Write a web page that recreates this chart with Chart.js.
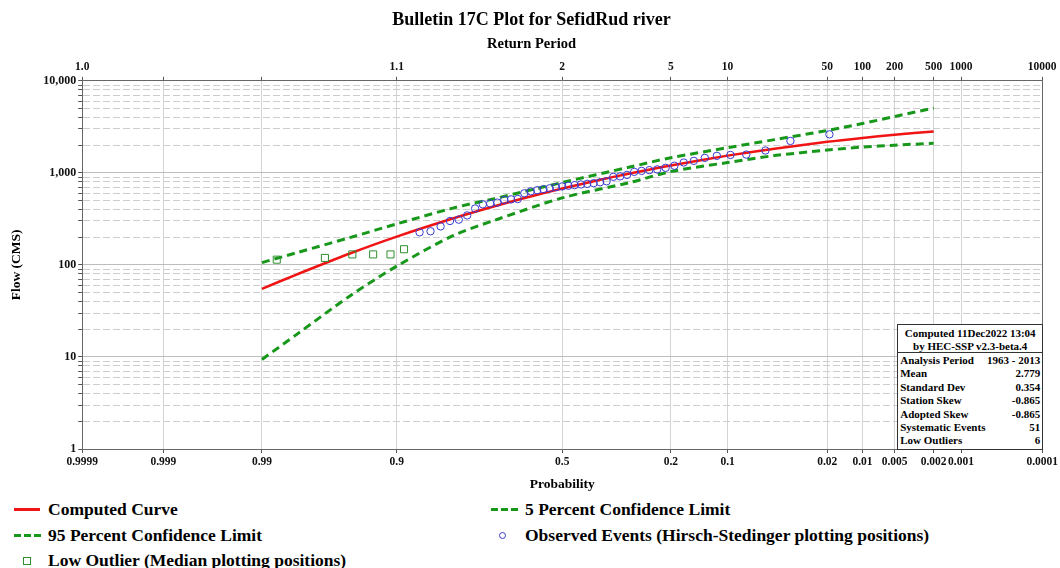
<!DOCTYPE html>
<html>
<head>
<meta charset="utf-8">
<title>Bulletin 17C Plot for SefidRud river</title>
<script src="https://cdn.jsdelivr.net/npm/chart.js@4.4.1/dist/chart.umd.min.js"></script>
<style>
  body { margin: 0; background: #fff; font-family: 'Liberation Serif', 'Times New Roman', serif; font-weight: bold; }
  #wrap { position: relative; width: 1060px; height: 568px; overflow: hidden; }
  #grafico { position: absolute; left: 0; top: 0; }
  #stats { position: absolute; width: 146px; height: 126px; box-sizing: border-box; border: 1px solid #333; background: #fff; font-size: 11px; color: #000; }
  #stats .head { text-align: center; line-height: 12.5px; padding-top: 2px; border-bottom: 1px solid #333; height: 28px; box-sizing: border-box; }
  #stats .row { display: flex; justify-content: space-between; line-height: 13.4px; padding: 0 2px; }
  #legenda { position: absolute; left: 0; top: 497px; width: 1060px; }
  .item { position: absolute; height: 24px; line-height: 24px; font-size: 17.5px; color: #000; white-space: nowrap; }
  .marca { position: absolute; top: 11px; }
</style>
</head>
<body>
<div id="wrap">
  <canvas id="grafico" width="1060" height="497"></canvas>
  <div id="stats"></div>
  <div id="legenda"></div>
</div>
<script>
// Eixo de probabilidade (excedencia) e rotulos
const probTicks = [0.9999, 0.999, 0.99, 0.9, 0.5, 0.2, 0.1, 0.02, 0.01, 0.005, 0.002, 0.001, 0.0001];
const probTickLabels = ['0.9999', '0.999', '0.99', '0.9', '0.5', '0.2', '0.1', '0.02', '0.01', '0.005', '0.002', '0.001', '0.0001'];
const returnPeriodLabels = ['1.0', '', '', '1.1', '2', '5', '10', '50', '100', '200', '500', '1000', '10000'];

// Eixo de vazao
const flowDecades = [1, 10, 100, 1000, 10000];
const flowDecadeLabels = ['1', '10', '100', '1,000', '10,000'];

// Curva calculada
const curveProb = [0.99, 0.98, 0.95, 0.9, 0.8, 0.7, 0.6, 0.5, 0.4, 0.3, 0.2, 0.1, 0.05, 0.02, 0.01, 0.005, 0.002];
const curveFlow = [55, 79, 133, 203, 321, 433, 549, 675, 816, 985, 1204, 1538, 1832, 2171, 2393, 2593, 2820];

// Limites de confianca
const limitProb = [0.99, 0.98, 0.95, 0.9, 0.8, 0.7, 0.5, 0.3, 0.2, 0.1, 0.05, 0.02, 0.01, 0.005, 0.002];
const upperFlow = [106, 136, 198, 279, 416, 525, 785, 1156, 1459, 1876, 2296, 2885, 3436, 4093, 5060];
const lowerFlow = [9.4, 17.7, 46, 97, 209, 305, 534, 785, 1033, 1294, 1540, 1766, 1905, 2000, 2093];

// Eventos observados (Hirsch-Stedinger)
const observedProb = [0.0192, 0.0385, 0.0577, 0.0769, 0.0962, 0.1154, 0.1346, 0.1538, 0.1731, 0.1923,
  0.2115, 0.2308, 0.25, 0.2692, 0.2885, 0.3077, 0.3269, 0.3462, 0.3654, 0.3846,
  0.4038, 0.4231, 0.4423, 0.4615, 0.4808, 0.5, 0.5192, 0.5385, 0.5577, 0.5769,
  0.5962, 0.6154, 0.6346, 0.6538, 0.6731, 0.6923, 0.7115, 0.7308, 0.75, 0.7692,
  0.7885, 0.8077, 0.8269, 0.8462, 0.8654];
const observedFlow = [2620, 2220, 1750, 1580, 1565, 1530, 1455, 1350, 1295, 1195,
  1135, 1090, 1070, 1050, 1025, 950, 915, 905, 810, 790,
  772, 760, 748, 736, 724, 712, 700, 680, 665, 648,
  630, 600, 520, 515, 508, 475, 465, 455, 410, 345,
  310, 300, 262, 232, 226];

// Outliers baixos (mediana)
const lowProb = [0.9865, 0.967, 0.948, 0.9285, 0.9083, 0.8898];
const lowFlow = [114, 119, 130, 130, 130, 148];

// Quadro de estatisticas
const statHead = ['Computed 11Dec2022 13:04', 'by HEC-SSP v2.3-beta.4'];
const statNames = ['Analysis Period', 'Mean', 'Standard Dev', 'Station Skew', 'Adopted Skew', 'Systematic Events', 'Low Outliers'];
const statValues = ['1963 - 2013', '2.779', '0.354', '-0.865', '-0.865', '51', '6'];

const corVermelha = '#f01414';
const corVerde = '#17981a';
const corAzul = '#3a3ad0';
const corQuadrado = '#2f8f2f';

// inversa da normal (Acklam)
function normInv(p) {
    const a = [-3.969683028665376e+01, 2.209460984245205e+02, -2.759285104469687e+02, 1.383577518672690e+02, -3.066479806614716e+01, 2.506628277459239e+00];
    const b = [-5.447609879822406e+01, 1.615858368580409e+02, -1.556989798598866e+02, 6.680131188771972e+01, -1.328068155288572e+01];
    const c = [-7.784894002430293e-03, -3.223964580411365e-01, -2.400758277161838e+00, -2.549732539343734e+00, 4.374664141464968e+00, 2.938163982698783e+00];
    const d = [7.784695709041462e-03, 3.224671290700398e-01, 2.445134137142996e+00, 3.754408661907416e+00];
    const pl = 0.02425;
    let q, r;
    if (p < pl) {
        q = Math.sqrt(-2 * Math.log(p));
        return (((((c[0] * q + c[1]) * q + c[2]) * q + c[3]) * q + c[4]) * q + c[5]) / ((((d[0] * q + d[1]) * q + d[2]) * q + d[3]) * q + 1);
    }
    if (p > 1 - pl) {
        q = Math.sqrt(-2 * Math.log(1 - p));
        return -(((((c[0] * q + c[1]) * q + c[2]) * q + c[3]) * q + c[4]) * q + c[5]) / ((((d[0] * q + d[1]) * q + d[2]) * q + d[3]) * q + 1);
    }
    q = p - 0.5;
    r = q * q;
    return (((((a[0] * r + a[1]) * r + a[2]) * r + a[3]) * r + a[4]) * r + a[5]) * q / (((((b[0] * r + b[1]) * r + b[2]) * r + b[3]) * r + b[4]) * r + 1);
}

const zOf = p => normInv(1 - p);
const pLeft = probTicks[0];
const pRight = probTicks[probTicks.length - 1];

// escala de probabilidade normal
class ProbabilityScale extends Chart.Scale {
    static id = 'probability';
    static defaults = {};

    determineDataLimits() {
        this.min = pRight;
        this.max = pLeft;
    }
    buildTicks() {
        return probTicks.map(v => ({ value: v }));
    }
    getLabelForValue(v) {
        return String(v);
    }
    getPixelForValue(v) {
        const z0 = zOf(pLeft), z1 = zOf(pRight);
        return this.getPixelForDecimal((zOf(v) - z0) / (z1 - z0));
    }
    getValueForPixel(px) {
        const z0 = zOf(pLeft), z1 = zOf(pRight);
        const z = z0 + this.getDecimalForPixel(px) * (z1 - z0);
        let lo = 1e-6, hi = 1 - 1e-6;
        for (let i = 0; i < 50; i++) {
            const mid = (lo + hi) / 2;
            if (zOf(mid) > z) lo = mid; else hi = mid;
        }
        return (lo + hi) / 2;
    }
}
Chart.register(ProbabilityScale);

const isDecade = v => flowDecades.includes(v);
const flowGridValues = [];
flowDecades.forEach(dec => {
    for (let k = 1; k <= 9; k++) {
        if (dec * k <= flowDecades[flowDecades.length - 1]) flowGridValues.push(dec * k);
    }
});

const pares = (ps, qs) => ps.map((p, i) => ({ x: p, y: qs[i] }));

Chart.defaults.font.family = "'Liberation Serif', 'Times New Roman', serif";
Chart.defaults.font.weight = 'bold';
Chart.defaults.color = '#000';

const fonteTick = { size: 11.5, weight: 'bold' };
const fonteTitulo = { size: 13.5, weight: 'bold' };

const config = {
    type: 'line',
    data: {
        datasets: [
            {
                label: 'Observed Events (Hirsch-Stedinger plotting positions)',
                type: 'scatter',
                data: pares(observedProb, observedFlow),
                pointStyle: 'circle',
                pointRadius: 3.7,
                borderColor: corAzul,
                backgroundColor: 'transparent',
                borderWidth: 1,
                order: 0
            },
            {
                label: 'Low Outlier (Median plotting positions)',
                type: 'scatter',
                data: pares(lowProb, lowFlow),
                pointStyle: 'rect',
                pointRadius: 5,
                borderColor: corQuadrado,
                backgroundColor: 'transparent',
                borderWidth: 1,
                order: 0
            },
            {
                label: 'Computed Curve',
                data: pares(curveProb, curveFlow),
                borderColor: corVermelha,
                borderWidth: 2.5,
                pointRadius: 0,
                tension: 0.3,
                order: 1
            },
            {
                label: '5 Percent Confidence Limit',
                data: pares(limitProb, upperFlow),
                borderColor: corVerde,
                borderWidth: 3,
                borderDash: [8, 5],
                pointRadius: 0,
                tension: 0.3,
                order: 2
            },
            {
                label: '95 Percent Confidence Limit',
                data: pares(limitProb, lowerFlow),
                borderColor: corVerde,
                borderWidth: 3,
                borderDash: [8, 5],
                pointRadius: 0,
                tension: 0.3,
                order: 2
            }
        ]
    },
    options: {
        responsive: false,
        devicePixelRatio: 1,
        animation: false,
        events: [],
        layout: { padding: { left: 3, right: 0, top: 0, bottom: 2 } },
        plugins: {
            legend: { display: false },
            tooltip: { enabled: false },
            title: {
                display: true,
                text: 'Bulletin 17C Plot for SefidRud river',
                font: { size: 18, weight: 'bold' },
                color: '#000',
                padding: { top: 10, bottom: 1 }
            },
            subtitle: {
                display: true,
                text: 'Return Period',
                font: { size: 14.5, weight: 'bold' },
                color: '#000',
                padding: { top: 3, bottom: 4 }
            }
        },
        scales: {
            x: {
                type: 'probability',
                axis: 'x',
                position: 'bottom',
                ticks: { autoSkip: false, maxRotation: 0, padding: 2, font: fonteTick, color: '#111', callback: (v, i) => probTickLabels[i] },
                grid: { color: '#d4d4d4', tickColor: '#555', tickLength: 4 },
                border: { color: '#666' },
                title: { display: true, text: 'Probability', font: fonteTitulo, color: '#000', padding: { top: 6, bottom: 2 } }
            },
            xTop: {
                type: 'probability',
                axis: 'x',
                position: 'top',
                ticks: { autoSkip: false, maxRotation: 0, padding: 3, font: fonteTick, color: '#111', callback: (v, i) => returnPeriodLabels[i] },
                grid: { drawOnChartArea: false, tickColor: '#555', tickLength: 4 },
                border: { color: '#666' }
            },
            y: {
                type: 'logarithmic',
                position: 'left',
                min: flowDecades[0],
                max: flowDecades[flowDecades.length - 1],
                afterBuildTicks: s => { s.ticks = flowGridValues.map(v => ({ value: v })); },
                ticks: {
                    autoSkip: false, padding: 2, font: { size: 12, weight: 'bold' }, color: '#111',
                    callback: v => { const i = flowDecades.indexOf(v); return i >= 0 ? flowDecadeLabels[i] : ''; }
                },
                grid: {
                    color: ctx => ctx.tick && isDecade(ctx.tick.value) ? '#bdbdbd' : '#cdcdcd',
                    tickColor: '#555',
                    tickLength: 4
                },
                border: {
                    color: '#666',
                    dash: ctx => (ctx.tick && !isDecade(ctx.tick.value)) ? [7, 3] : []
                },
                title: { display: true, text: 'Flow (CMS)', font: fonteTitulo, color: '#000', padding: { top: 5, bottom: 17 } }
            },
            yR: {
                type: 'linear',
                position: 'right',
                min: 0,
                max: 1,
                ticks: { display: false },
                grid: { display: false, drawTicks: false },
                border: { color: '#666' }
            }
        }
    }
};

document.addEventListener('DOMContentLoaded', function() {
    const ctx = document.getElementById('grafico').getContext('2d');
    const grafico = new Chart(ctx, config);

    // quadro de estatisticas no canto inferior direito
    const stats = document.getElementById('stats');
    let html = '<div class="head">' + statHead.join('<br>') + '</div><div style="padding-top:1px">';
    statNames.forEach((n, i) => {
        html += '<div class="row"><span>' + n + '</span><span>' + statValues[i] + '</span></div>';
    });
    stats.innerHTML = html + '</div>';
    const area = grafico.chartArea;
    stats.style.left = (area.right - 146 + 1) + 'px';
    stats.style.top = (area.bottom - 126 + 1) + 'px';

    // legenda
    const itens = [
        { texto: 'Computed Curve', tipo: 'linha', x: 14, linha: 0 },
        { texto: '5 Percent Confidence Limit', tipo: 'tracejado', x: 491, linha: 0 },
        { texto: '95 Percent Confidence Limit', tipo: 'tracejado', x: 14, linha: 1 },
        { texto: 'Observed Events (Hirsch-Stedinger plotting positions)', tipo: 'circulo', x: 491, linha: 1 },
        { texto: 'Low Outlier (Median plotting positions)', tipo: 'quadrado', x: 14, linha: 2 }
    ];
    const legenda = document.getElementById('legenda');
    itens.forEach(it => {
        const div = document.createElement('div');
        div.className = 'item';
        div.style.left = it.x + 'px';
        div.style.top = (it.linha * 25.5) + 'px';
        let marca = '';
        if (it.tipo === 'linha') {
            marca = '<span class="marca" style="left:0;width:26px;height:3px;background:' + corVermelha + '"></span>';
        } else if (it.tipo === 'tracejado') {
            marca = '<span class="marca" style="left:0;width:27px;height:3px;background:repeating-linear-gradient(90deg,' + corVerde + ' 0 7px,transparent 7px 10px)"></span>';
        } else if (it.tipo === 'circulo') {
            marca = '<span class="marca" style="left:8px;top:9px;width:7px;height:7px;box-sizing:border-box;border:1px solid ' + corAzul + ';border-radius:50%"></span>';
        } else {
            marca = '<span class="marca" style="left:9px;top:9px;width:8px;height:8px;box-sizing:border-box;border:1px solid ' + corQuadrado + '"></span>';
        }
        div.innerHTML = marca + '<span style="position:absolute;left:34px">' + it.texto + '</span>';
        legenda.appendChild(div);
    });
});
</script>
</body>
</html>
